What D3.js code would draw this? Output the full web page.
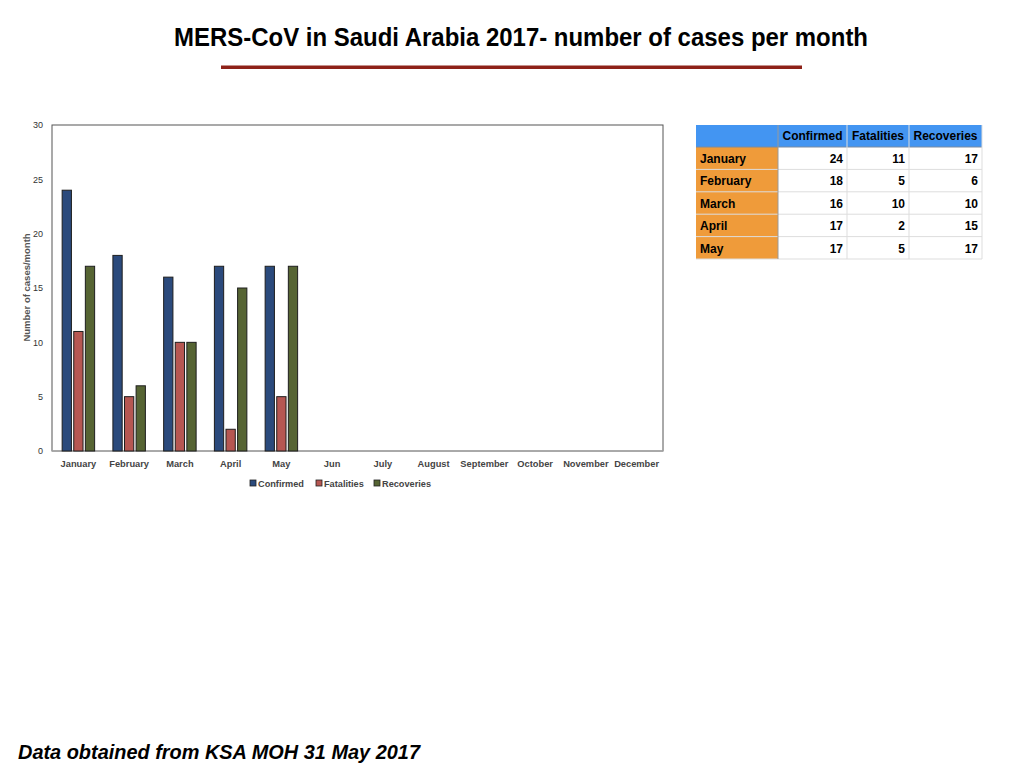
<!DOCTYPE html>
<html>
<head>
<meta charset="utf-8">
<script src="https://cdn.jsdelivr.net/npm/d3@7"></script>
<style>
  body { margin: 0; background: #fff; }
  svg { display: block; font-family: "Liberation Sans", Arial, sans-serif; }
</style>
</head>
<body>
<svg width="1024" height="768"></svg>
<script>
const svg = d3.select("svg");

// data
const months = ["January", "February", "March", "April", "May", "Jun", "July",
  "August", "September", "October", "November", "December"];
const seriesNames = ["Confirmed", "Fatalities", "Recoveries"];
const confirmed = [24, 18, 16, 17, 17];
const fatalities = [11, 5, 10, 2, 5];
const recoveries = [17, 6, 10, 15, 17];
const yTicks = [0, 5, 10, 15, 20, 25, 30];

const colors = ["#2b4a7c", "#b65752", "#566433"];
const values = [confirmed, fatalities, recoveries];

// title
svg.append("text")
  .attr("x", 521).attr("y", 46)
  .attr("text-anchor", "middle")
  .attr("font-family", "'Liberation Sans Narrow', 'Liberation Sans', Arial, sans-serif")
  .attr("font-weight", "bold")
  .attr("font-size", 25)
  .attr("textLength", 694)
  .attr("lengthAdjust", "spacingAndGlyphs")
  .text("MERS-CoV in Saudi Arabia 2017- number of cases per month");

svg.append("rect")
  .attr("x", 221).attr("y", 65.5)
  .attr("width", 581).attr("height", 3.5)
  .attr("fill", "#8e2219");

// chart
const margin = { left: 52, top: 125, right: 663, bottom: 451 };

const x = d3.scaleBand()
  .domain(months)
  .range([margin.left, margin.right])
  .paddingInner(0.36)
  .paddingOuter(0.2);

const xs = d3.scaleBand()
  .domain(seriesNames)
  .range([0, x.bandwidth()])
  .paddingInner(0.2);

const y = d3.scaleLinear()
  .domain([0, 30])
  .range([margin.bottom, margin.top]);

const g = svg.append("g");

// frame
g.append("rect")
  .attr("x", margin.left).attr("y", margin.top)
  .attr("width", margin.right - margin.left)
  .attr("height", margin.bottom - margin.top)
  .attr("fill", "none")
  .attr("stroke", "#555")
  .attr("stroke-width", 1);

g.append("line")
  .attr("x1", margin.left).attr("x2", margin.right)
  .attr("y1", margin.bottom).attr("y2", margin.bottom)
  .attr("stroke", "#aaa").attr("stroke-width", 1.5);

// y axis
const yAxis = g.append("g")
  .attr("transform", `translate(${margin.left},0)`)
  .call(d3.axisLeft(y).tickValues(yTicks).tickSize(0).tickPadding(9));
yAxis.select(".domain").remove();
yAxis.selectAll("text")
  .attr("font-size", 9).attr("fill", "#333")
  .attr("font-family", "'Liberation Sans', Arial, sans-serif");

g.append("text")
  .attr("transform", `translate(29.5,${(margin.top + margin.bottom) / 2 - 0.5}) rotate(-90)`)
  .attr("text-anchor", "middle")
  .attr("font-size", 9.5).attr("font-weight", "bold").attr("fill", "#555")
  .text("Number of cases/month");

// x axis
const xAxis = g.append("g")
  .attr("transform", `translate(0,${margin.bottom})`)
  .call(d3.axisBottom(x).tickSize(0).tickPadding(9));
xAxis.select(".domain").remove();
xAxis.selectAll("text")
  .attr("font-size", 9.3).attr("font-weight", "bold").attr("fill", "#444")
  .attr("font-family", "'Liberation Sans', Arial, sans-serif");

// bars
seriesNames.forEach((s, si) => {
  g.append("g")
    .selectAll("rect")
    .data(values[si])
    .enter()
    .append("rect")
    .attr("x", (d, i) => x(months[i]) + xs(s))
    .attr("y", d => y(d))
    .attr("width", xs.bandwidth())
    .attr("height", d => y(0) - y(d))
    .attr("fill", colors[si])
    .attr("stroke", "#1e1e1e")
    .attr("stroke-width", 1);
});

// legend
const legendX = [250, 316, 374];
const legend = g.append("g");
seriesNames.forEach((s, si) => {
  legend.append("rect")
    .attr("x", legendX[si]).attr("y", 480)
    .attr("width", 6).attr("height", 6)
    .attr("fill", colors[si]).attr("stroke", "#222").attr("stroke-width", 0.8);
  legend.append("text")
    .attr("x", legendX[si] + 8).attr("y", 486.5)
    .attr("font-size", 9.2).attr("font-weight", "bold").attr("fill", "#444")
    .text(s);
});

// table
const tableX = [696, 778, 847, 909, 982];
const rowTop = 125, headH = 22, rowH = 22.4;
const tg = svg.append("g").attr("font-size", 12).attr("font-weight", "bold");

tg.append("rect")
  .attr("x", tableX[0]).attr("y", rowTop)
  .attr("width", tableX[4] - tableX[0]).attr("height", headH)
  .attr("fill", "#4395f2");
tg.append("rect")
  .attr("x", tableX[0]).attr("y", rowTop + headH)
  .attr("width", tableX[1] - tableX[0]).attr("height", rowH * confirmed.length)
  .attr("fill", "#ef9b3a");

// grid
d3.range(confirmed.length + 1).forEach(r => {
  tg.append("line")
    .attr("x1", tableX[0]).attr("x2", tableX[4])
    .attr("y1", rowTop + headH + r * rowH).attr("y2", rowTop + headH + r * rowH)
    .attr("stroke", r === 0 ? "#7a8aa0" : "#ddd").attr("stroke-width", 1);
});
tableX.slice(1).forEach((cx, ci) => {
  tg.append("line")
    .attr("x1", cx).attr("x2", cx)
    .attr("y1", rowTop).attr("y2", rowTop + headH + rowH * confirmed.length)
    .attr("stroke", ci === 0 ? "#999" : "#ddd").attr("stroke-width", 1);
});

seriesNames.forEach((s, ci) => {
  tg.append("text")
    .attr("x", (tableX[ci + 1] + tableX[ci + 2]) / 2).attr("y", rowTop + 15)
    .attr("text-anchor", "middle")
    .text(s);
});

confirmed.forEach((d, r) => {
  const ty = rowTop + headH + r * rowH + 16;
  tg.append("text").attr("x", tableX[0] + 4).attr("y", ty).text(months[r]);
  values.forEach((vals, ci) => {
    tg.append("text")
      .attr("x", tableX[ci + 2] - 4).attr("y", ty)
      .attr("text-anchor", "end")
      .text(vals[r]);
  });
});

// footer
svg.append("text")
  .attr("x", 18).attr("y", 759)
  .attr("font-size", 20).attr("font-weight", "bold").attr("font-style", "italic")
  .attr("textLength", 402)
  .attr("lengthAdjust", "spacingAndGlyphs")
  .text("Data obtained from KSA MOH 31 May 2017");
</script>
</body>
</html>
